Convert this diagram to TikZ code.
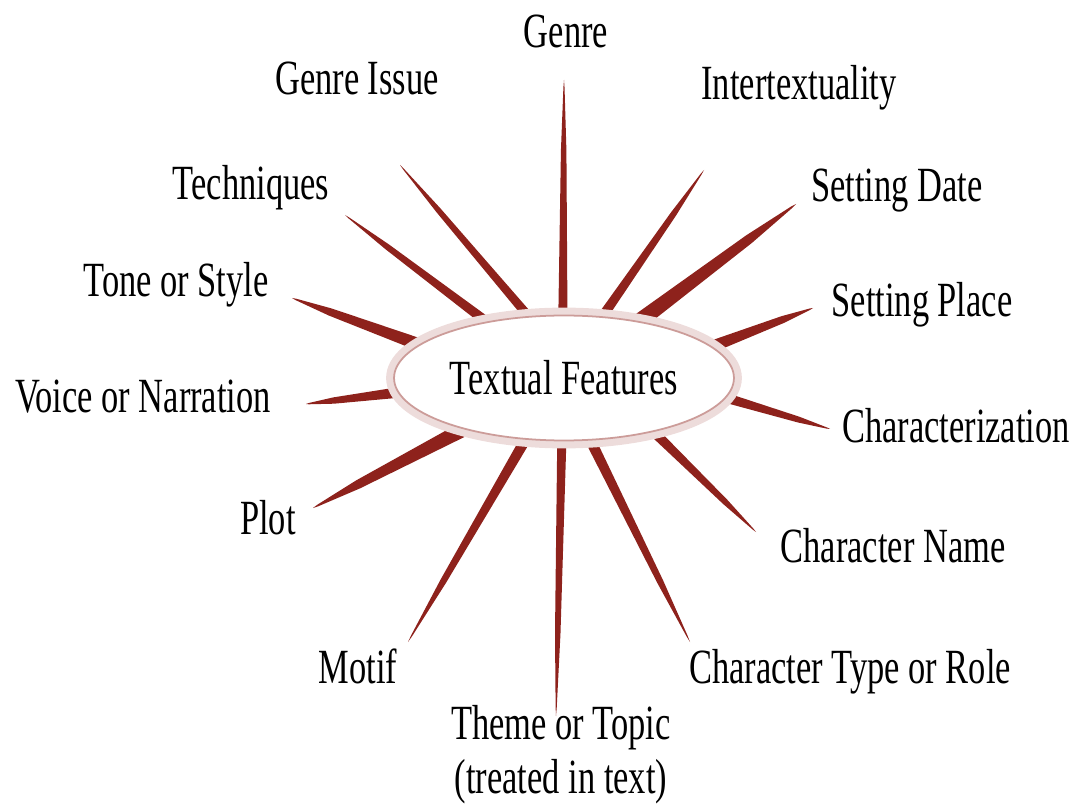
\documentclass[tikz,border=0pt]{standalone}
\usepackage{fontspec}
\setmainfont[FakeStretch=0.7]{Liberation Serif}
\usepackage{tikz}
\usetikzlibrary{calc, backgrounds, shapes.geometric}

\definecolor{spokered}{RGB}{142,34,28}

\tikzset{
    feature/.style={inner sep=0pt, anchor=base, font=\fontsize{28}{31}\selectfont},
    hub/.style={ellipse, fill=white, draw=spokered!45, line width=1pt,
        preaction={draw=spokered!16, line width=9pt},
        minimum width=6.8cm, minimum height=2.5cm, inner sep=0pt,
        font=\fontsize{28}{31}\selectfont},
}

% tapered spoke: #1 inner end, #2 outer tip, #3 half width at the inner end
\newcommand{\spoke}[3]{%
    \fill[spokered] ($(#1)!#3!90:(#2)$)
        -- ($($(#1)!0.7!(#2)$)!0.6*#3!90:(#2)$)
        -- ($($(#1)!0.97!(#2)$)!0.12*#3!90:(#2)$)
        -- (#2)
        -- ($($(#1)!0.97!(#2)$)!0.12*#3!-90:(#2)$)
        -- ($($(#1)!0.7!(#2)$)!0.6*#3!-90:(#2)$)
        -- ($(#1)!#3!-90:(#2)$) -- cycle;}

\begin{document}
\begin{tikzpicture}[x=0.02cm, y=-0.02cm]
\useasboundingbox (0,0) rectangle (1076,804);

\node[hub] (tf) at (564,378) {Textual Features};

\node[feature] (genre)    at (566,48)  {Genre};
\node[feature] (issue)    at (357,95)  {Genre Issue};
\node[feature] (intertex) at (799,100) {Intertextuality};
\node[feature] (techn)    at (251,200) {Techniques};
\node[feature] (date)     at (897,202) {Setting Date};
\node[feature] (tone)     at (176,297) {Tone or Style};
\node[feature] (place)    at (922,317) {Setting Place};
\node[feature] (voice)    at (143,413) {Voice or Narration};
\node[feature] (charz)    at (956,442) {Characterization};
\node[feature] (plot)     at (268,534) {Plot};
\node[feature] (cname)    at (893,562) {Character Name};
\node[feature] (motif)    at (358,683) {Motif};
\node[feature] (ctype)    at (850,683) {Character Type or Role};
\node[feature, align=center, anchor=north] (theme) at (561,705)
    {Theme or Topic\\(treated in text)};

\coordinate (genre-t)    at (564,80);
\coordinate (issue-t)    at (400,165);
\coordinate (intertex-t) at (704,170);
\coordinate (techn-t)    at (345,215);
\coordinate (date-t)     at (796,204);
\coordinate (tone-t)     at (292,298);
\coordinate (place-t)    at (813,308);
\coordinate (voice-t)    at (306,404);
\coordinate (charz-t)    at (830,429);
\coordinate (plot-t)     at (313,508);
\coordinate (cname-t)    at (756,532);
\coordinate (motif-t)    at (408,642);
\coordinate (ctype-t)    at (690,642);
\coordinate (theme-t)    at (556,716);

\begin{scope}[on background layer]
\spoke{tf.91}{genre-t}{2.6pt}
\spoke{tf.120}{issue-t}{2.6pt}
\spoke{tf.58}{intertex-t}{2.8pt}
\spoke{tf.144}{techn-t}{2.8pt}
\spoke{tf.37}{date-t}{4.5pt}
\spoke{tf.167}{tone-t}{3.6pt}
\spoke{tf.12}{place-t}{3.4pt}
\spoke{tf.185}{voice-t}{3pt}
\spoke{tf.-7}{charz-t}{2.8pt}
\spoke{tf.207}{plot-t}{4.2pt}
\spoke{tf.-31}{cname-t}{2.8pt}
\spoke{tf.238}{motif-t}{3pt}
\spoke{tf.-67}{ctype-t}{3pt}
\spoke{tf.-92}{theme-t}{2.6pt}
\end{scope}
\end{tikzpicture}
\end{document}
